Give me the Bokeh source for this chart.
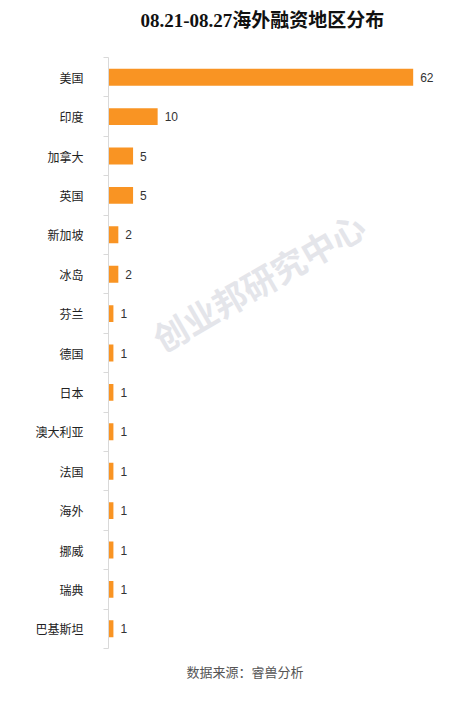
from bokeh.plotting import figure
from bokeh.models import Range1d, FixedTicker, Title, Label, ColumnDataSource
from bokeh.core.properties import value
from bokeh.embed import file_html
from bokeh.resources import INLINE

regions = ["美国", "印度", "加拿大", "英国", "新加坡", "冰岛", "芬兰", "德国",
           "日本", "澳大利亚", "法国", "海外", "挪威", "瑞典", "巴基斯坦"]
counts = [62, 10, 5, 5, 2, 2, 1, 1, 1, 1, 1, 1, 1, 1, 1]
title_text = "08.21-08.27海外融资地区分布"
source_text = "数据来源：睿兽分析"
watermark_text = "创业邦研究中心"

n = len(regions)
pos = [i + 0.5 for i in range(n)]
src = ColumnDataSource(dict(y=pos, v=counts, lbl=[str(c) for c in counts], name=regions))

CJK = "Noto Sans CJK SC"
BAR = "#F99423"

p = figure(width=464, height=700, output_backend="svg", toolbar_location=None,
           x_range=Range1d(0, 70), y_range=Range1d(n, 0),
           min_border_left=108, min_border_right=12, min_border_top=57, min_border_bottom=52)
p.outline_line_color = None
p.grid.visible = False
p.xaxis.visible = False
p.background_fill_color = "white"
p.border_fill_color = "white"

p.hbar(y="y", right="v", left=0, height=0.43, source=src, color=BAR, line_color=None)
p.text(x="v", y="y", text="lbl", source=src, x_offset=7, text_baseline="middle",
       text_align="left", text_font_size="12px", text_color="#333333",
       text_font=value("Liberation Sans"))

ya = p.yaxis[0]
ya.ticker = FixedTicker(ticks=pos, minor_ticks=list(range(n + 1)))
ya.major_label_overrides = {pv: r for pv, r in zip(pos, regions)}
ya.major_tick_line_color = None
ya.major_tick_out = 0
ya.major_tick_in = 0
ya.minor_tick_out = 5
ya.minor_tick_in = 0
ya.minor_tick_line_color = "#D9D9D9"
ya.axis_line_color = "#D9D9D9"
ya.major_label_standoff = 20
ya.major_label_text_font = CJK
ya.major_label_text_font_size = "12px"
ya.major_label_text_color = "#222222"

wm = Label(x=150, y=367, x_units="screen", y_units="screen", text=watermark_text,
           angle=30, angle_units="deg", text_align="center", text_baseline="middle",
           text_font=CJK, text_font_size="34px", text_font_style="bold",
           text_color="#E4E5EA")
p.add_layout(wm)

p.title = Title(text=title_text + "\n ", align="left", offset=32, standoff=12,
                text_font="Liberation Serif, Noto Sans CJK SC", text_font_size="19px",
                text_font_style="bold", text_color="#111111")

foot = Title(text=source_text, align="left", offset=78, standoff=22,
             text_font=CJK, text_font_size="13px", text_font_style="normal",
             text_color="#555555")
p.add_layout(foot, "below")

open("out.html", "w").write(file_html(p, INLINE))
